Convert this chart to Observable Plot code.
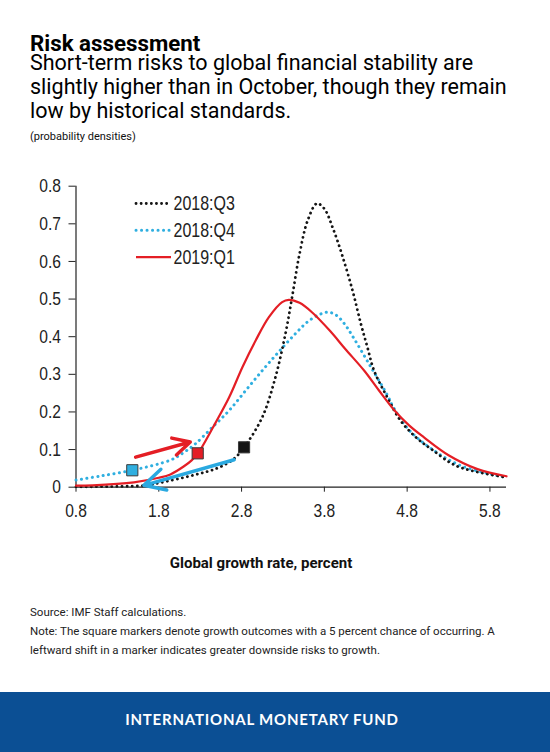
<!DOCTYPE html>
<html>
<head>
<meta charset="utf-8">
<script src="https://cdn.jsdelivr.net/npm/d3@7"></script>
<script src="https://cdn.jsdelivr.net/npm/@observablehq/plot@0.6"></script>
<style>
  html, body { margin: 0; padding: 0; background: #fff; }
  #page { position: relative; width: 550px; height: 752px; overflow: hidden; font-family: Roboto, "Noto Sans", sans-serif; color: #111; }
  .abs { position: absolute; left: 30px; white-space: nowrap; }
  #title { top: 36.4px; font-size: 22.3px; line-height: 14px; font-weight: 700; color: #000; }
  #subtitle { top: 50.7px; font-size: 21.5px; line-height: 24px; font-weight: 400; color: #000; }
  #unit { top: 129.8px; font-size: 11px; line-height: 13px; }
  #chart { position: absolute; left: 0; top: 170px; }
  #legend { position: absolute; left: 0; top: 170px; }
  #xlabel { position: absolute; left: 0; width: 522px; text-align: center; top: 554px; font-size: 15px; line-height: 18px; font-weight: 700; }
  #source { top: 603.3px; font-size: 11.5px; line-height: 19px; color: #222; }
  #footer { position: absolute; left: 0; top: 692px; width: 550px; height: 60px; background: #0b4f94; }
  #footer div { position: absolute; left: 0; width: 524px; text-align: center; top: 17.5px; font-family: Lato, "Open Sans", sans-serif; font-weight: 700; font-size: 15px; line-height: 18px; letter-spacing: 0.8px; color: #fff; }
</style>
</head>
<body>
<div id="page">
  <div id="title" class="abs">Risk assessment</div>
  <div id="subtitle" class="abs">Short-term risks to global financial stability are<br>slightly higher than in October, though they remain<br>low by historical standards.</div>
  <div id="unit" class="abs">(probability densities)</div>
  <div id="chart"></div>
  <div id="legend"></div>
  <div id="xlabel">Global growth rate, percent</div>
  <div id="source" class="abs">Source: IMF Staff calculations.<br>Note: The square markers denote growth outcomes with a 5 percent chance of occurring. A<br>leftward shift in a marker indicates greater downside risks to growth.</div>
  <div id="footer"><div>INTERNATIONAL MONETARY FUND</div></div>
</div>
<script>
// ---- data ----
const seriesNames = ["2018:Q3", "2018:Q4", "2019:Q1"];
const seriesColors = ["#151515", "#2fafe0", "#e41e25"];

const q3X = [0.8, 1.3, 1.66, 1.82, 2.22, 2.5, 2.7, 2.83, 3.05, 3.21, 3.33, 3.41, 3.5, 3.6, 3.71, 3.8, 3.9, 4.01, 4.14, 4.24, 4.32, 4.4, 4.56, 4.72, 4.92, 5.1, 5.4, 6.0];
const q3Y = [0.001, 0.002, 0.005, 0.012, 0.032, 0.05, 0.074, 0.106, 0.186, 0.293, 0.408, 0.505, 0.62, 0.71, 0.754, 0.74, 0.69, 0.62, 0.523, 0.435, 0.372, 0.31, 0.239, 0.177, 0.13, 0.1, 0.056, 0.026];

const q4X = [0.8, 1.1, 1.48, 1.94, 2.1, 2.24, 2.45, 2.65, 2.85, 3.05, 3.25, 3.45, 3.6, 3.75, 3.85, 3.95, 4.05, 4.15, 4.36, 4.56, 4.64, 4.81, 5.08, 5.46, 6.0];
const q4Y = [0.019, 0.03, 0.045, 0.072, 0.092, 0.115, 0.16, 0.204, 0.257, 0.31, 0.36, 0.408, 0.44, 0.46, 0.465, 0.456, 0.432, 0.398, 0.32, 0.245, 0.21, 0.155, 0.104, 0.056, 0.026];

const q1X = [0.8, 1.0, 1.5, 1.8, 1.94, 2.1, 2.2, 2.27, 2.32, 2.48, 2.65, 2.81, 2.97, 3.13, 3.29, 3.37, 3.5, 3.65, 3.87, 4.05, 4.28, 4.46, 4.64, 4.82, 5.0, 5.3, 5.65, 6.0];
const q1Y = [0.004, 0.005, 0.013, 0.025, 0.034, 0.055, 0.072, 0.09, 0.106, 0.169, 0.239, 0.319, 0.39, 0.452, 0.492, 0.498, 0.49, 0.465, 0.415, 0.368, 0.31, 0.257, 0.206, 0.165, 0.133, 0.085, 0.048, 0.029];

// 5% tail markers (order: Q3, Q4, Q1)
const markerX = [2.83, 1.48, 2.27];
const markerY = [0.106, 0.045, 0.090];

// shift arrows (red: rightward, cyan: leftward)
const arrowX1 = [1.52, 2.71];
const arrowY1 = [0.080, 0.073];
const arrowX2 = [2.18, 1.62];
const arrowY2 = [0.120, 0.005];
const arrowColors = ["#e41e25", "#2aa9e0"];

const xTicks = [0.8, 1.8, 2.8, 3.8, 4.8, 5.8];
const yTicks = [0, 0.1, 0.2, 0.3, 0.4, 0.5, 0.6, 0.7, 0.8];

// ---- build tables ----
const toRows = (xs, ys, s) => xs.map((x, i) => ({x, y: ys[i], s}));
const q3 = toRows(q3X, q3Y, seriesNames[0]);
const q4 = toRows(q4X, q4Y, seriesNames[1]);
const q1 = toRows(q1X, q1Y, seriesNames[2]);
const markers = markerX.map((x, i) => ({x, y: markerY[i], c: seriesColors[i]}));
const arrows = arrowX1.map((x1, i) => ({x1, y1: arrowY1[i], x2: arrowX2[i], y2: arrowY2[i], c: arrowColors[i]}));

const axisFont = "'Liberation Sans Narrow', 'Liberation Sans', Arial, sans-serif";
const narrow = 0.82;

const chart = Plot.plot({
  width: 550,
  height: 360,
  marginTop: 15.7,
  marginLeft: 75.5,
  marginRight: 44,
  marginBottom: 43.3,
  style: {fontFamily: axisFont, fontSize: "19px", color: "#222", background: "transparent", overflow: "visible"},
  x: {domain: [0.8, 6.0]},
  y: {domain: [0, 0.8]},
  marks: [
    Plot.axisX({ticks: xTicks, tickFormat: d => d.toFixed(1), tickSize: 5, tickPadding: 11, fontSize: 19, label: null, stroke: "#222"}),
    Plot.axisY({ticks: yTicks, tickFormat: d => d === 0 ? "0" : d.toFixed(1), tickSize: 7, tickPadding: 8, fontSize: 19, label: null, stroke: "#222"}),
    Plot.ruleY([0], {stroke: "#222", strokeWidth: 1.2}),
    Plot.ruleX([0.8], {stroke: "#222", strokeWidth: 1.2}),
    Plot.line(q4, {x: "x", y: "y", curve: "catmull-rom", stroke: seriesColors[1], strokeWidth: 3, strokeDasharray: "0.1 5.4", strokeLinecap: "round"}),
    Plot.line(q3, {x: "x", y: "y", curve: "catmull-rom", stroke: seriesColors[0], strokeWidth: 2.8, strokeDasharray: "0.1 5", strokeLinecap: "round"}),
    Plot.line(q1, {x: "x", y: "y", curve: "catmull-rom", stroke: seriesColors[2], strokeWidth: 2.2}),
    Plot.arrow(arrows, {x1: "x1", y1: "y1", x2: "x2", y2: "y2", stroke: "c", strokeWidth: 3.5, headLength: 10, headAngle: 55}),
    Plot.dot(markers, {x: "x", y: "y", symbol: "square", r: 6.3, fill: "c", stroke: "#3a3a3a", strokeWidth: 1})
  ]
});
document.getElementById("chart").appendChild(chart);

// condense tick labels horizontally (narrow sans look) without moving their anchors
chart.querySelectorAll('g[aria-label$="tick label"] text').forEach(t => {
  const len = t.getComputedTextLength();
  if (len > 0) {
    t.setAttribute("textLength", (len * narrow).toFixed(2));
    t.setAttribute("lengthAdjust", "spacingAndGlyphs");
  }
});

// ---- legend (line-style swatches) ----
const legendStyles = [
  {dash: "0.1 5", w: 2.8},
  {dash: "0.1 5.4", w: 3},
  {dash: null, w: 2.2}
];
const lg = d3.select("#legend").append("svg").attr("width", 300).attr("height", 110)
  .style("overflow", "visible");
seriesNames.forEach((name, i) => {
  const cy = 33.5 + i * 26.8;
  const line = lg.append("line").attr("x1", 136).attr("x2", 171).attr("y1", cy).attr("y2", cy)
    .attr("stroke", seriesColors[i]).attr("stroke-width", legendStyles[i].w).attr("stroke-linecap", legendStyles[i].dash ? "round" : "butt");
  if (legendStyles[i].dash) line.attr("stroke-dasharray", legendStyles[i].dash);
  lg.append("text").attr("transform", `translate(173.5,${cy}) scale(${narrow},1)`).attr("dy", "0.35em")
    .style("font-family", axisFont).style("font-size", "19.5px").attr("fill", "#222").text(name);
});
</script>
</body>
</html>
